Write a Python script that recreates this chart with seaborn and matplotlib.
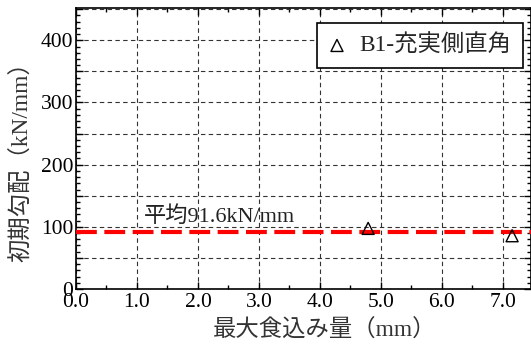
import numpy as np
import pandas as pd
import seaborn as sns
import matplotlib
matplotlib.use("Agg")
import matplotlib.pyplot as plt
from matplotlib.ticker import MultipleLocator, FuncFormatter

# data
penetration = [4.79, 7.15]      # 最大食込み量 (mm)
stiffness = [97.5, 85.7]        # 初期勾配 (kN/mm)
mean_stiffness = 91.6
series_label = "B1-充実側直角"

df = pd.DataFrame({"x": penetration, "y": stiffness})

sns.set_style("ticks")
plt.rcParams['font.family'] = ['Liberation Serif', 'Noto Sans CJK JP']

FS = 15.5      # tick labels
FS_JP = 16.8   # texts with Japanese

fig = plt.figure(figsize=(5.31, 3.47), dpi=100)
ax = fig.add_axes([76 / 531, 1 - 289 / 347, 455 / 531, 281 / 347])

# mean line
ax.axhline(mean_stiffness, color='#ff0000', lw=3, dashes=(5, 1.8), zorder=3)
sns.scatterplot(data=df, x="x", y="y", marker='^', s=75, facecolors='none',
                edgecolor='black', linewidth=1.0, ax=ax, zorder=4, label=series_label)

ax.set_xlim(0, 7.46)
ax.set_ylim(0, 452)

ax.xaxis.set_major_locator(MultipleLocator(1.0))
ax.xaxis.set_minor_locator(MultipleLocator(0.5))
ax.xaxis.set_major_formatter(FuncFormatter(lambda v, p: f"{v:.1f}"))
ax.yaxis.set_major_locator(MultipleLocator(50))
ax.yaxis.set_minor_locator(MultipleLocator(10))
ax.yaxis.set_major_formatter(FuncFormatter(lambda v, p: f"{v:.0f}" if round(v) % 100 == 0 else ""))

ax.tick_params(which='both', direction='in', top=True, right=True, labelsize=FS,
               width=1.0, colors='black')
ax.tick_params(axis='x', pad=3)
ax.tick_params(axis='y', pad=2)
ax.tick_params(which='major', length=5)
ax.tick_params(which='minor', length=3)
ax.grid(which='major', ls=(0, (4, 3)), color='#333333', lw=0.8)
for s in ax.spines.values():
    s.set_linewidth(1.2)
    s.set_color('black')

ax.set_xlabel("最大食込み量（mm）", fontsize=FS_JP, color='#333333')
ax.set_ylabel("初期勾配（kN/mm）", fontsize=FS_JP, color='#333333')
ax.xaxis.set_label_coords(0.546, -0.108)
ax.yaxis.set_label_coords(-0.095, 0.473)

ax.text(1.12, 108, f"平均{mean_stiffness}kN/mm", fontsize=16, color='#222222',
        va='baseline', zorder=5)

leg = ax.legend(loc='upper right', fontsize=FS_JP, frameon=True, fancybox=False,
                edgecolor='black', framealpha=1, borderpad=0.5, handletextpad=0.6,
                handlelength=0.7, borderaxespad=0, bbox_to_anchor=(0.982, 0.947))
leg.get_frame().set_linewidth(1.2)

fig.savefig("out.png", dpi=100)
